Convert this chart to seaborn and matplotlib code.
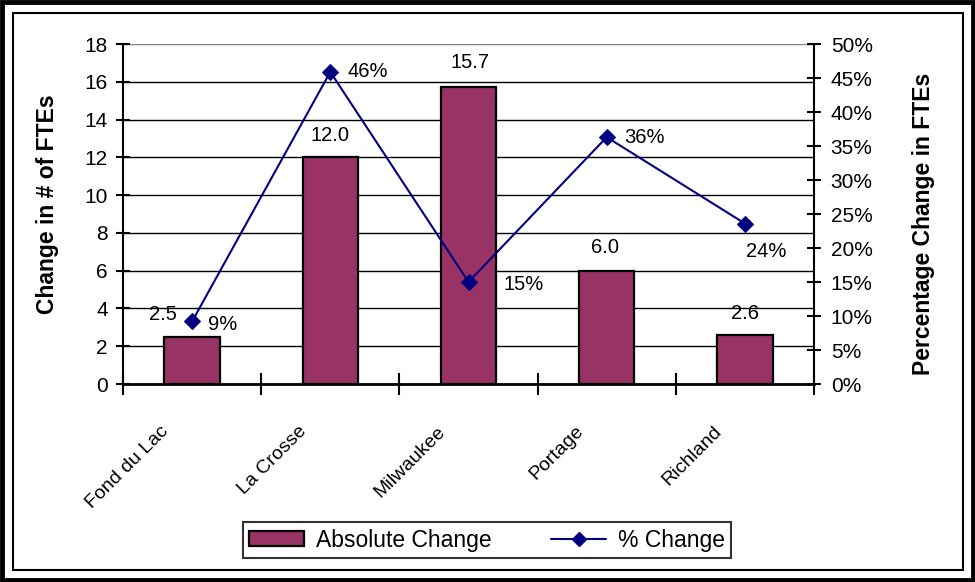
import matplotlib
matplotlib.use("Agg")
import matplotlib.pyplot as plt
import matplotlib.transforms as mtransforms
from matplotlib.patches import Rectangle
from matplotlib.lines import Line2D
import seaborn as sns

counties = ["Fond du Lac", "La Crosse", "Milwaukee", "Portage", "Richland"]
abs_change = [2.5, 12.0, 15.7, 6.0, 2.6]
pct_change = [9.2, 45.9, 15.0, 36.3, 23.6]
pct_labels = ["9%", "46%", "15%", "36%", "24%"]
abs_labels = ["2.5", "12.0", "15.7", "6.0", "2.6"]

BAR = "#993366"
LINE = "#000080"

sns.set_theme(style="white")
plt.rcParams["font.family"] = ["Liberation Sans", "DejaVu Sans"]
plt.rcParams.update({"text.color": "black", "axes.labelcolor": "black",
                     "xtick.color": "black", "ytick.color": "black"})

fig = plt.figure(figsize=(9.75, 5.82), dpi=100)
ax = fig.add_axes([123 / 975, 1 - 384 / 582, (814 - 123) / 975, (384 - 44) / 582])

sns.barplot(x=counties, y=abs_change, color=BAR, edgecolor="black", linewidth=1.6,
            width=0.4, saturation=1, ax=ax)
ax.set_ylim(0, 18)
ax.set_xlim(-0.5, 4.5)
ax.set_yticks(range(0, 19, 2))
ax.set_axisbelow(True)
ax.yaxis.grid(True, color="black", linewidth=1)
ax.get_ygridlines()[-1].set_color("#808080")
for side in ["left", "bottom", "right"]:
    ax.spines[side].set_color("black")
ax.spines["left"].set_linewidth(1.5)
ax.spines["bottom"].set_linewidth(2)
ax.spines["top"].set_visible(False)
ax.tick_params(axis="y", direction="inout", length=10, width=1.5, labelsize=15,
               pad=6, left=True)
ax.set_xticks([-0.5, 0.5, 1.5, 2.5, 3.5, 4.5], minor=True)
ax.tick_params(axis="x", which="minor", direction="inout", length=16, width=1.5, bottom=True)
ax.tick_params(axis="x", which="major", length=0, labelsize=14)
ax.set_xticks(range(len(counties)))
ax.set_xticklabels(counties, rotation=45, ha="right", va="center", rotation_mode="anchor")
shift = mtransforms.ScaledTranslation(-26 / 100, -40 / 100, fig.dpi_scale_trans)
for lab in ax.get_xticklabels():
    lab.set_transform(lab.get_transform() + shift)
ax.set_ylabel("Change in # of FTEs", fontsize=16.5, fontweight="bold")
ax.yaxis.set_label_coords(-0.093, 0.53)

ax2 = ax.twinx()
sns.lineplot(x=counties, y=pct_change, color=LINE, marker="D", markersize=8,
             markeredgecolor=LINE, linewidth=1.5, ax=ax2)
ax2.set_ylim(0, 50)
ax2.set_xlim(-0.5, 4.5)
ax2.set_yticks(range(0, 51, 5))
ax2.set_yticklabels([f"{v}%" for v in range(0, 51, 5)])
ax2.tick_params(axis="y", direction="inout", length=10, width=1.5, labelsize=15,
                pad=7, right=True)
for side in ["left", "bottom", "top"]:
    ax2.spines[side].set_visible(False)
ax2.spines["right"].set_color("black")
ax2.spines["right"].set_linewidth(1.5)
ax2.set_ylabel("Percentage Change in FTEs", fontsize=16.5, fontweight="bold")
ax2.yaxis.set_label_coords(1.142, 0.47)

# data labels (offsets in pixels from the mark)
abs_off = [(-29, 22), (0, 22), (1, 25), (-2, 23), (0, 21)]
for i, (v, t) in enumerate(zip(abs_change, abs_labels)):
    ax2.annotate(t, xy=(i, v * 50 / 18), xytext=abs_off[i], textcoords="offset pixels",
                 ha="center", va="center", fontsize=14.5)
pct_off = [(31, -3), (37, 0), (55, -3), (38, 0), (21, -28)]
for i, (v, t) in enumerate(zip(pct_change, pct_labels)):
    ax2.annotate(t, xy=(i, v), xytext=pct_off[i], textcoords="offset pixels",
                 ha="center", va="center", fontsize=14.5)

handles = [Rectangle((0, 0), 1, 1, facecolor=BAR, edgecolor="black", linewidth=1.6),
           Line2D([], [], color=LINE, marker="D", markersize=7, linewidth=1.5)]
leg = fig.legend(handles, ["Absolute Change", "% Change"], loc="center",
                 bbox_to_anchor=(487 / 975, 1 - 540 / 582), ncol=2, fontsize=16.5,
                 frameon=True, fancybox=False, edgecolor="black", handlelength=2.4,
                 handleheight=0.6, handletextpad=0.5, columnspacing=2.6, borderpad=0.3,
                 borderaxespad=0)
leg.get_frame().set_linewidth(1.5)

# chart area borders
fig.patches.append(Rectangle((2 / 975, 2 / 582), 971 / 975, 578 / 582, transform=fig.transFigure,
                             fill=False, edgecolor="black", linewidth=3.5))
fig.patches.append(Rectangle((13 / 975, 12 / 582), 950 / 975, 557 / 582, transform=fig.transFigure,
                             fill=False, edgecolor="black", linewidth=1.5))

fig.savefig("out.png", dpi=100)
